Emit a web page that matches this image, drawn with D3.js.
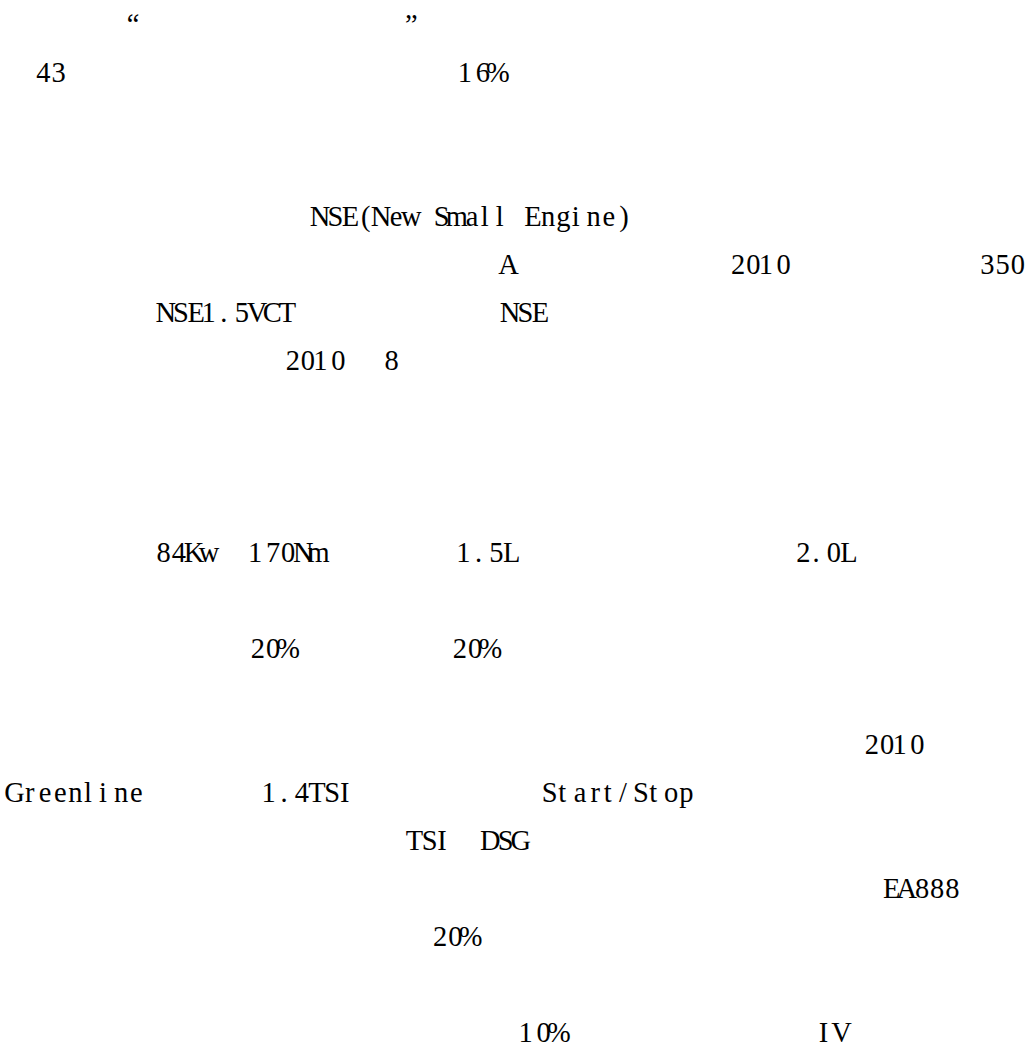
<!DOCTYPE html>
<html>
<head>
<meta charset="utf-8">
<script src="https://cdn.jsdelivr.net/npm/d3@7"></script>
<style>
  body { margin: 0; background: #ffffff; }
</style>
</head>
<body>
<div id="page"></div>
<script>
// The text fragments that survive on the page (CJK glyphs are missing)...
var fragTexts = [ '\u201C', '\u201D',
                  '43', '16%',
                  'NSE(New Small Engine)',
                  'A', '2010', '350',
                  'NSE1.5VCT', 'NSE',
                  '2010', '8',
                  '84Kw', '170Nm', '1.5L', '2.0L',
                  '20%', '20%',
                  '2010',
                  'Greenline', '1.4TSI', 'Start/Stop',
                  'TSI', 'DSG',
                  'EA888',
                  '20%',
                  '10%', 'IV' ];

// Text line each fragment sits on
var fragRows  = [ 0, 0,
                  1, 1,
                  4,
                  5, 5, 5,
                  6, 6,
                  7, 7,
                  11, 11, 11, 11,
                  13, 13,
                  15,
                  16, 16, 16,
                  17, 17,
                  18,
                  19,
                  21, 21 ];

// Character column of the first glyph (half-width cells)
var fragCols  = [ 7.8, 26.1,
                  1.9, 29.8,
                  20.1,
                  32.5, 47.6, 64.0,
                  9.95, 32.6,
                  18.3, 24.8,
                  9.8, 16.0, 29.7, 51.9,
                  16.0, 29.3,
                  56.4,
                  0.0, 16.9, 35.2,
                  26.3, 31.3,
                  57.7,
                  28.0,
                  33.8, 53.4 ];

var cellWidth  = 15.2;
var lineHeight = 48.0;
var fontSize   = 30;
var squeeze    = 0.95;

// narrow glyphs sit to the left of their cell
var narrowChars = '1.ilt/I';

var width  = 1035;
var height = 1050;

var svg = d3.select ('#page').append ('svg')
            .attr ('width', width)
            .attr ('height', height);

// grid scales: column -> x, line -> baseline
var xScale = d3.scaleLinear ()
               .domain ( [ 0, 1 ] )
               .range ( [ 7, 7 + cellWidth ] );

var yScale = d3.scaleLinear ()
               .domain ( [ 0, 1 ] )
               .range ( [ 34, 34 + lineHeight ] );

// one glyph per cell, like a monospaced CJK font does it
var glyphs = [ ];
for (var i = 0; i < fragTexts.length; i++)
{
    var chars = fragTexts[i].split ('');
    for (var j = 0; j < chars.length; j++)
    {
        if (chars[j] == ' ')
            continue;
        var shift = (narrowChars.indexOf (chars[j]) >= 0) ? -0.18 : 0;
        glyphs.push ( { ch: chars[j], row: fragRows[i], col: fragCols[i] + j + shift } );
    }
}

svg.selectAll ('text')
   .data (glyphs)
   .enter ()
   .append ('text')
   .attr ('transform', function (d) {
        return 'translate(' + xScale (d.col + 0.5) + ',' + yScale (d.row) + ') scale(' + squeeze + ',1)';
   })
   .attr ('text-anchor', 'middle')
   .attr ('font-family', '"Liberation Serif", "Times New Roman", serif')
   .attr ('font-size', fontSize + 'px')
   .attr ('fill', '#000000')
   .text (function (d) { return d.ch; });
</script>
</body>
</html>
